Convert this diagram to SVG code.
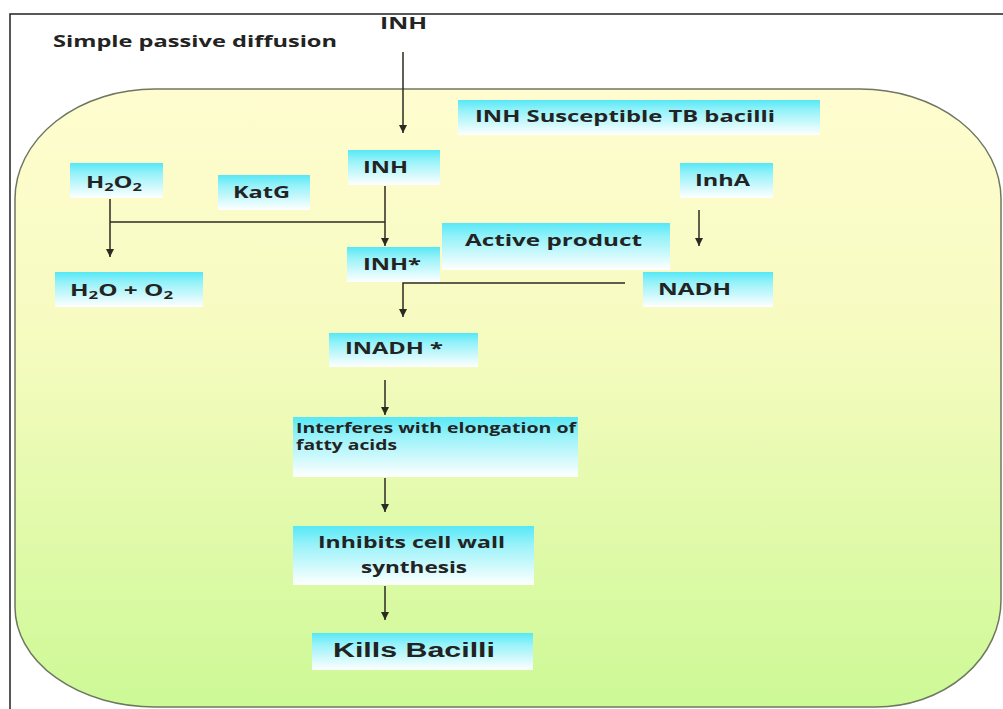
<svg xmlns="http://www.w3.org/2000/svg" width="1003" height="709" viewBox="0 0 1003 709">
<defs>
<linearGradient id="cell" x1="0" y1="0" x2="0" y2="1">
<stop offset="0" stop-color="#fffdd0"/>
<stop offset="0.4" stop-color="#f6fbc0"/>
<stop offset="1" stop-color="#cdf996"/>
</linearGradient>
<linearGradient id="box" x1="0" y1="0" x2="0" y2="1">
<stop offset="0" stop-color="#56e8f6"/>
<stop offset="0.3" stop-color="#96f2f9"/>
<stop offset="1" stop-color="#ffffff"/>
</linearGradient>
<marker id="arr" viewBox="0 0 10 10" refX="10" refY="5" markerWidth="8" markerHeight="8" markerUnits="userSpaceOnUse" orient="auto">
<path d="M0,0 L10,5 L0,10 Z" fill="#2b2b22"/>
</marker>
</defs>
<style>
.t{font-family:"Open Sans","DejaVu Sans",sans-serif;font-weight:700;font-size:16px;fill:#232323}
.s{font-size:14px}
.k{font-family:"Liberation Sans",Arial,sans-serif;font-weight:700;font-size:20px;fill:#222}
.bx{fill:url(#box)}
.ln{stroke:#2b2b22;stroke-width:1.5;fill:none}
</style>
<rect width="1003" height="709" fill="#ffffff"/>
<path d="M10,709 V14 H1003" fill="none" stroke="#222" stroke-width="1.5"/>
<path id="cellwall" d="M155,89 H860 A141,110 0 0 1 1001,199 V600 A125,107 0 0 1 876,707 H155 A140,100 0 0 1 15,607 V199 A140,110 0 0 1 155,89 Z" fill="url(#cell)" stroke="#6e7760" stroke-width="1.5"/>
<text class="t" x="53" y="47" textLength="284" lengthAdjust="spacingAndGlyphs">Simple passive diffusion</text>
<g id="inh-top"><text class="t" x="380" y="29" textLength="47" lengthAdjust="spacingAndGlyphs">INH</text></g>
<g id="title"><rect class="bx" x="458" y="100" width="362" height="35"/><text class="t" x="475" y="122" textLength="300" lengthAdjust="spacingAndGlyphs">INH Susceptible TB bacilli</text></g>
<g id="h2o2"><rect class="bx" x="70" y="163" width="93" height="35"/><text class="t" x="86" y="188" textLength="56" lengthAdjust="spacingAndGlyphs">H<tspan font-size="11" dy="3">2</tspan><tspan dy="-3">O</tspan><tspan font-size="11" dy="3">2</tspan></text></g>
<g id="katg"><rect class="bx" x="218" y="175" width="92" height="35"/><text class="t" x="233" y="198" textLength="57" lengthAdjust="spacingAndGlyphs">KatG</text></g>
<g id="inh"><rect class="bx" x="348" y="150" width="92" height="35"/><text class="t" x="363" y="173" textLength="45" lengthAdjust="spacingAndGlyphs">INH</text></g>
<g id="inhstar"><rect class="bx" x="347" y="247" width="93" height="35"/><text class="t" x="363" y="270" textLength="58" lengthAdjust="spacingAndGlyphs">INH*</text></g>
<g id="h2o-o2"><rect class="bx" x="55" y="272" width="148" height="35"/><text class="t" x="70" y="296" textLength="103" lengthAdjust="spacingAndGlyphs">H<tspan font-size="11" dy="3">2</tspan><tspan dy="-3">O + O</tspan><tspan font-size="11" dy="3">2</tspan></text></g>
<g id="active"><rect class="bx" x="442" y="223" width="228" height="47"/><text class="t" x="465" y="246" textLength="177" lengthAdjust="spacingAndGlyphs">Active product</text></g>
<g id="inha"><rect class="bx" x="680" y="163" width="93" height="35"/><text class="t" x="695" y="186" textLength="55" lengthAdjust="spacingAndGlyphs">InhA</text></g>
<g id="nadh"><rect class="bx" x="643" y="272" width="130" height="35"/><text class="t" x="658" y="295" textLength="73" lengthAdjust="spacingAndGlyphs">NADH</text></g>
<g id="inadh"><rect class="bx" x="329" y="333" width="149" height="34"/><text class="t" x="345" y="354" textLength="98" lengthAdjust="spacingAndGlyphs">INADH *</text></g>
<g id="interferes"><rect class="bx" x="293" y="417" width="285" height="60"/><text class="t s" x="296" y="433" textLength="280" lengthAdjust="spacingAndGlyphs">Interferes with elongation of</text><text class="t s" x="296" y="450" textLength="101" lengthAdjust="spacingAndGlyphs">fatty acids</text></g>
<g id="inhibits"><rect class="bx" x="293" y="526" width="241" height="59"/><text class="t" x="318" y="548" textLength="187" lengthAdjust="spacingAndGlyphs">Inhibits cell wall</text><text class="t" x="361" y="573" textLength="106" lengthAdjust="spacingAndGlyphs">synthesis</text></g>
<g id="kills"><rect class="bx" x="312" y="633" width="221" height="37"/><text class="k" x="333" y="657" textLength="162" lengthAdjust="spacingAndGlyphs">Kills Bacilli</text></g>
<g id="connectors">
<line class="ln" x1="403" y1="52" x2="403" y2="133" marker-end="url(#arr)"/>
<line class="ln" x1="110" y1="199" x2="110" y2="257" marker-end="url(#arr)"/>
<line class="ln" x1="110" y1="222" x2="385" y2="222"/>
<line class="ln" x1="385" y1="186" x2="385" y2="246" marker-end="url(#arr)"/>
<line class="ln" x1="699" y1="210" x2="699" y2="246" marker-end="url(#arr)"/>
<polyline class="ln" points="625,283 403,283 403,317" marker-end="url(#arr)"/>
<line class="ln" x1="385" y1="380" x2="385" y2="415" marker-end="url(#arr)"/>
<line class="ln" x1="385" y1="478" x2="385" y2="512" marker-end="url(#arr)"/>
<line class="ln" x1="385" y1="586" x2="385" y2="620" marker-end="url(#arr)"/>
</g>
</svg>
